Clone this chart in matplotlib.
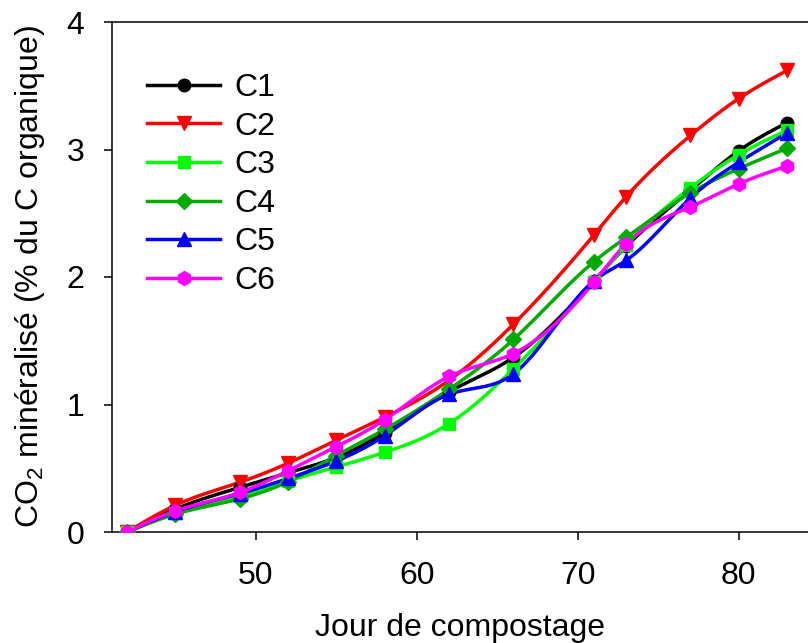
import numpy as np
import matplotlib
matplotlib.use("Agg")
import matplotlib.pyplot as plt
from matplotlib.lines import Line2D

plt.rcParams["font.family"] = ["Liberation Sans", "DejaVu Sans"]
plt.rcParams["mathtext.default"] = "regular"

# Days of composting at which CO2 release was measured
days = [42, 45, 49, 52, 55, 58, 62, 66, 71, 73, 77, 80, 83]

# Cumulative mineralised CO2 (% of organic C) for each compost
c1 = [0, 0.18, 0.35, 0.465, 0.585, 0.78, 1.10, 1.37, 1.97, 2.24, 2.68, 2.99, 3.21]
c2 = [0, 0.21, 0.39, 0.54, 0.72, 0.90, 1.19, 1.63, 2.33, 2.63, 3.11, 3.40, 3.62]
c3 = [0, 0.15, 0.28, 0.40, 0.51, 0.625, 0.85, 1.28, 1.96, 2.25, 2.70, 2.96, 3.15]
c4 = [0, 0.14, 0.26, 0.395, 0.60, 0.805, 1.12, 1.51, 2.12, 2.31, 2.66, 2.85, 3.01]
c5 = [0, 0.16, 0.30, 0.42, 0.557, 0.755, 1.08, 1.24, 1.97, 2.13, 2.62, 2.90, 3.13]
c6 = [0, 0.165, 0.31, 0.48, 0.67, 0.88, 1.22, 1.40, 1.96, 2.26, 2.55, 2.73, 2.87]

labels = ["C1", "C2", "C3", "C4", "C5", "C6"]
x_ticks = [50, 60, 70, 80]
y_ticks = [0, 1, 2, 3, 4]

series = [c1, c2, c3, c4, c5, c6]
colors = ["#000000", "#FF0000", "#00FF00", "#00AA00", "#0000FF", "#FF00FF"]
markers = ["o", "v", "s", "D", "^", "h"]
msizes = [9, 10, 9, 8.5, 10, 10]
FS = 23


def natural_spline(x, y, n=400):
    """Smooth curve through the points (natural cubic spline)."""
    x = np.asarray(x, float)
    y = np.asarray(y, float)
    k = len(x)
    h = np.diff(x)
    A = np.zeros((k, k))
    b = np.zeros(k)
    A[0, 0] = A[-1, -1] = 1.0
    for i in range(1, k - 1):
        A[i, i - 1] = h[i - 1]
        A[i, i] = 2 * (h[i - 1] + h[i])
        A[i, i + 1] = h[i]
        b[i] = 6 * ((y[i + 1] - y[i]) / h[i] - (y[i] - y[i - 1]) / h[i - 1])
    M = np.linalg.solve(A, b)
    xs = np.linspace(x[0], x[-1], n)
    idx = np.clip(np.searchsorted(x, xs) - 1, 0, k - 2)
    x0, x1 = x[idx], x[idx + 1]
    hh = x1 - x0
    t0, t1 = x1 - xs, xs - x0
    ys = (M[idx] * t0 ** 3 / (6 * hh) + M[idx + 1] * t1 ** 3 / (6 * hh)
          + (y[idx] / hh - M[idx] * hh / 6) * t0
          + (y[idx + 1] / hh - M[idx + 1] * hh / 6) * t1)
    return xs, ys


fig = plt.figure(figsize=(8.08, 6.43), dpi=100)
ax = fig.add_axes([112 / 808, 1 - 532 / 643, 1 - 112 / 808, (532 - 22) / 643])

handles = []
for vals, col, mk, ms, lab in zip(series, colors, markers, msizes, labels):
    xs, ys = natural_spline(days, vals)
    ax.plot(xs, ys, color=col, lw=2.5, solid_capstyle="round", zorder=2)
    ax.plot(days, vals, linestyle="none", marker=mk, ms=ms, color=col,
            markeredgecolor=col, zorder=3)
    handles.append(Line2D([], [], color=col, lw=2.5, marker=mk, ms=ms,
                          markeredgecolor=col, label=lab))

ax.set_xlim(41.06, 84.3)
ax.set_ylim(0, 4)
ax.set_xticks(x_ticks)
ax.set_yticks(y_ticks)
ax.tick_params(axis="both", direction="out", length=6, width=1.1,
               labelsize=FS)
ax.tick_params(axis="x", pad=15)
ax.tick_params(axis="y", pad=14)
for side in ("left", "bottom", "top"):
    ax.spines[side].set_linewidth(1.1)
ax.spines["right"].set_visible(False)

ax.set_xlabel("Jour de compostage", fontsize=FS, labelpad=16)
ax.set_ylabel("CO$_2$ minéralisé (% du C organique)", fontsize=FS, labelpad=14)

ax.legend(handles=handles, loc="upper left", frameon=False, fontsize=FS,
          bbox_to_anchor=(0.05, 0.9), borderaxespad=0, borderpad=0,
          handlelength=2.3, handletextpad=0.45, labelspacing=0.27)

fig.savefig("out.png", dpi=100)
